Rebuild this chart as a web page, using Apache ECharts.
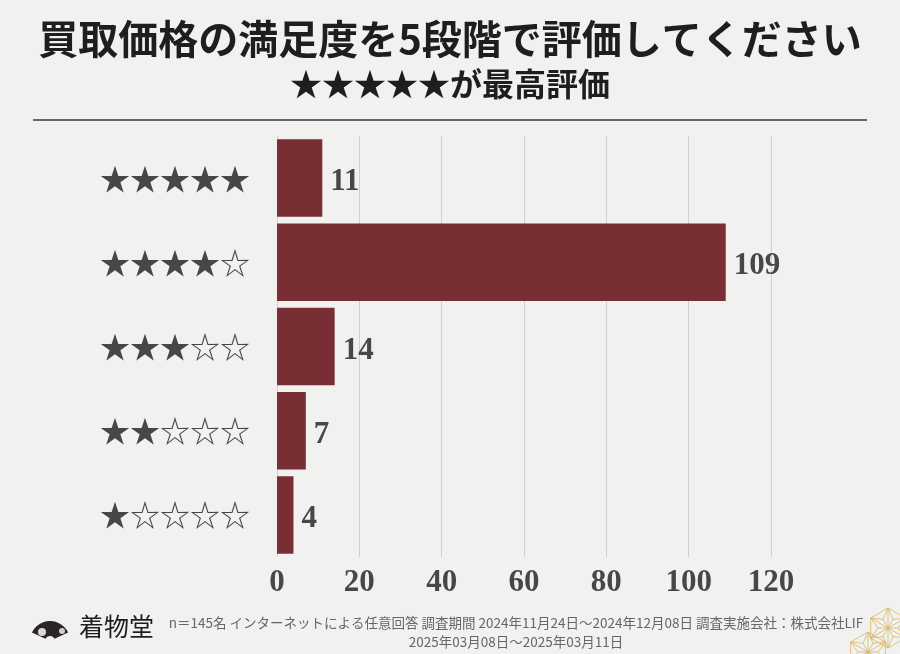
<!DOCTYPE html>
<html><head><meta charset="utf-8">
<script src="https://cdn.jsdelivr.net/npm/echarts@6/dist/echarts.min.js"></script>
<style>html,body{margin:0;padding:0;background:#f1f1f0}#c{width:900px;height:654px}</style>
</head><body><div id="c"></div>
<script>
const categories = ['★★★★★', '★★★★☆', '★★★☆☆', '★★☆☆☆', '★☆☆☆☆'];
const counts = [11, 109, 14, 7, 4];
const axisMin = 0, axisMax = 120, axisStep = 20;
const titleText = '買取価格の満足度を5段階で評価してください';
const subtitleText = '★★★★★が最高評価';
const footLine1 = 'n＝145名 インターネットによる任意回答 調査期間 2024年11月24日～2024年12月08日 調査実施会社：株式会社LIF';
const footLine2 = '2025年03月08日～2025年03月11日';
const brand = '着物堂';

const chart = echarts.init(document.getElementById('c'), null, {renderer: 'canvas'});
const serifNum = '"Liberation Serif", "DejaVu Serif", serif';
const cjk = '"Noto Sans CJK JP", "Noto Sans", sans-serif';
const gold = 'rgba(214,178,90,0.75)';
function asanoha(cx, cy, r) {
  const els = [];
  for (let i = 0; i < 6; i++) {
    const a = Math.PI / 3 * i - Math.PI / 2;
    const x = cx + r * Math.cos(a), y = cy + r * Math.sin(a);
    const a2 = a + Math.PI / 3;
    const x2 = cx + r * Math.cos(a2), y2 = cy + r * Math.sin(a2);
    els.push({type: 'line', shape: {x1: cx, y1: cy, x2: x, y2: y}, style: {stroke: gold, lineWidth: 1}, silent: true});
    els.push({type: 'line', shape: {x1: x, y1: y, x2: x2, y2: y2}, style: {stroke: gold, lineWidth: 1}, silent: true});
    const mx = cx + r * 0.5 * Math.cos(a + Math.PI / 6), my = cy + r * 0.5 * Math.sin(a + Math.PI / 6);
    els.push({type: 'polyline', shape: {points: [[x, y], [mx, my], [x2, y2]]}, style: {stroke: gold, lineWidth: 1, fill: null}, silent: true});
    els.push({type: 'line', shape: {x1: cx, y1: cy, x2: mx, y2: my}, style: {stroke: gold, lineWidth: 1}, silent: true});
  }
  return els;
}
chart.setOption({
  backgroundColor: '#f1f1f0',
  animation: false,
  title: [
    {text: titleText, left: 'center', top: 14,
     textStyle: {fontFamily: cjk, fontSize: 40, fontWeight: 'bold', color: '#1e1e1e'}},
    {text: subtitleText, left: 'center', top: 63,
     textStyle: {fontFamily: cjk, fontSize: 32, fontWeight: 'bold', color: '#1e1e1e'}}
  ],
  grid: {left: 277, right: 129, top: 136, bottom: 97, containLabel: false},
  xAxis: {
    type: 'value', min: axisMin, max: axisMax, interval: axisStep,
    axisLine: {show: false}, axisTick: {show: false},
    splitLine: {show: true, lineStyle: {color: '#cfcfcf', width: 1}},
    axisLabel: {fontFamily: serifNum, fontSize: 31, color: '#474747', margin: 10, fontWeight: 'bold'}
  },
  yAxis: {
    type: 'category', data: categories, inverse: true,
    axisLine: {show: false}, axisTick: {show: false},
    axisLabel: {fontFamily: cjk, fontSize: 30, color: '#474747', margin: 27}
  },
  series: [{
    type: 'bar', data: counts, barCategoryGap: '8%',
    itemStyle: {color: '#782e33'},
    label: {show: true, position: 'right', distance: 8, offset: [0, 4], fontFamily: serifNum, fontSize: 31,
            fontWeight: 'bold', color: '#474747'}
  }],
  graphic: [
    {type: 'line', shape: {x1: 33, y1: 120, x2: 867, y2: 120}, style: {stroke: '#3a3a3a', lineWidth: 1.5}, silent: true},
    {type: 'sector', shape: {cx: 50, cy: 641, r0: 5, r: 20, startAngle: -Math.PI * 0.86, endAngle: -Math.PI * 0.14}, style: {fill: '#2a2424'}, silent: true},
    {type: 'circle', shape: {cx: 42, cy: 632, r: 4}, style: {fill: '#d8d8d8'}, silent: true},
    {type: 'circle', shape: {cx: 62, cy: 631, r: 3}, style: {fill: '#cfcfcf'}, silent: true},
    {type: 'text', left: 79, top: 614, style: {text: brand, fontFamily: cjk, fontSize: 25, fill: '#1e1e1e'}, silent: true},
    {type: 'text', x: 516, y: 623, style: {text: footLine1, fontFamily: cjk, fontSize: 13.5, fill: '#666', align: 'center', verticalAlign: 'middle'}, silent: true},
    {type: 'text', x: 516, y: 642, style: {text: footLine2, fontFamily: cjk, fontSize: 13.5, fill: '#666', align: 'center', verticalAlign: 'middle'}, silent: true},
    ...asanoha(888, 628, 20), ...asanoha(868, 652, 20)
  ]
});
</script></body></html>
